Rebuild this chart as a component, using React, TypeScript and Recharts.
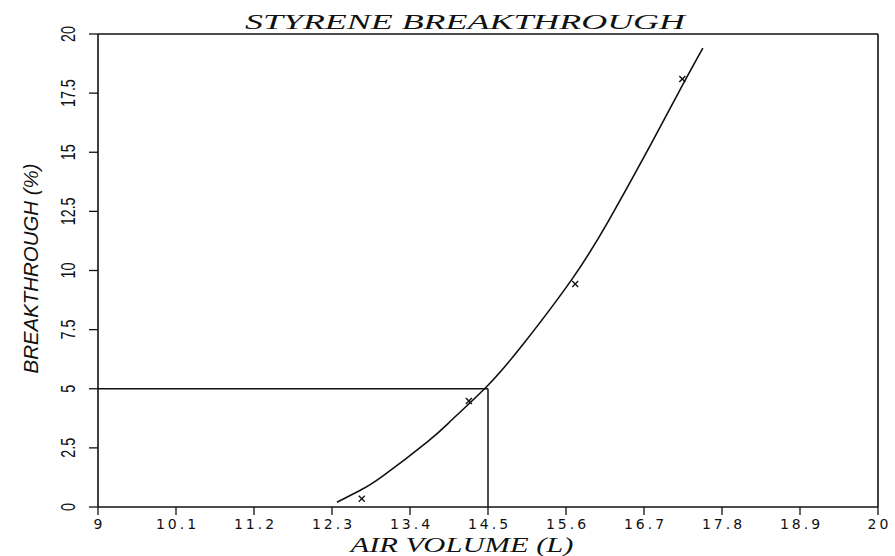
import React from 'react';
import { ComposedChart, Line, Scatter, XAxis, YAxis, ReferenceLine, Label } from 'recharts';

// fitted breakthrough curve
const curveX = [12.37, 12.7, 13.0, 13.64, 14.0, 14.5, 15.0, 15.7, 16.2, 16.7, 17.2, 17.53];
const curveY = [0.2, 0.71, 1.27, 2.74, 3.71, 5.15, 6.9, 9.7, 12.1, 14.8, 17.6, 19.4];
// measured points
const measuredX = [12.72, 14.23, 15.73, 17.24];
const measuredY = [0.35, 4.48, 9.43, 18.1];
// axes
const xTicks = [9, 10.1, 11.2, 12.3, 13.4, 14.5, 15.6, 16.7, 17.8, 18.9, 20];
const xTickLabels = ['9', '10.1', '11.2', '12.3', '13.4', '14.5', '15.6', '16.7', '17.8', '18.9', '20'];
const topTicks = [9, 10.1, 17.8, 18.9, 20];
const yTicks = [0, 2.5, 5, 7.5, 10, 12.5, 15, 17.5, 20];
const yTickLabels = ['0', '2.5', '5', '7.5', '10', '12.5', '15', '17.5', '20'];
const cutoffX = 14.5;
const cutoffY = 5;
const title = 'STYRENE BREAKTHROUGH';
const xTitle = 'AIR VOLUME (L)';
const yTitle = 'BREAKTHROUGH (%)';

const minorX = xTicks.slice(0, -1).flatMap((t) => [1, 2, 3, 4].map((k) => +(t + k * 0.22).toFixed(2)));
const minorY = yTicks.slice(0, -1).flatMap((t) => [1, 2, 3, 4].map((k) => t + k * 0.5));

const curveData = curveX.map((x, i) => ({ x, y: curveY[i] }));
const measuredData = measuredX.map((x, i) => ({ x, y: measuredY[i] }));

const INK = '#111';

const XTick = (props: any) => {
  const { x, y, payload } = props;
  const i = xTicks.indexOf(payload.value);
  return (
    <text x={x + 1.5} y={y + 10} textAnchor="middle" fontSize={14} letterSpacing={3}
      fontFamily="'DejaVu Sans', sans-serif" fill={INK}>
      {i >= 0 ? xTickLabels[i] : payload.value}
    </text>
  );
};

const YTick = (props: any) => {
  const { x, y, payload } = props;
  const i = yTicks.indexOf(payload.value);
  return (
    <text transform={`translate(${x},${y}) rotate(-90) scale(0.72,1)`} textAnchor="middle" fontSize={20}
      fontFamily="'Liberation Sans', Arial, sans-serif" fill={INK}>
      {i >= 0 ? yTickLabels[i] : payload.value}
    </text>
  );
};

const Cross = (props: any) => {
  const { cx, cy } = props;
  const r = 3;
  return (
    <g stroke={INK} strokeWidth={1.4}>
      <line x1={cx - r} y1={cy - r} x2={cx + r} y2={cy + r} />
      <line x1={cx - r} y1={cy + r} x2={cx + r} y2={cy - r} />
    </g>
  );
};

export default function App() {
  return (
    <div style={{ position: 'absolute', left: 0, top: 0, width: 895, height: 556, background: '#fff' }}>
      <ComposedChart width={895} height={556} margin={{ top: 33, right: 16, bottom: 47, left: 96 }}>
        <XAxis xAxisId="minorX" type="number" domain={[9, 20]} allowDataOverflow ticks={minorX} interval={0}
          height={1} tick={false} tickSize={5} axisLine={false} stroke={INK} tickLine={{ stroke: INK, strokeWidth: 1.3 }} />
        <YAxis yAxisId="minorY" type="number" domain={[0, 20]} allowDataOverflow ticks={minorY} interval={0}
          width={1} tick={false} tickSize={5} axisLine={false} stroke={INK} tickLine={{ stroke: INK, strokeWidth: 1.3 }} />
        <XAxis xAxisId="top" orientation="top" type="number" domain={[9, 20]} allowDataOverflow ticks={topTicks}
          interval={0} height={1} tick={false} tickSize={9} stroke={INK} axisLine={{ stroke: INK, strokeWidth: 1.6 }}
          tickLine={{ stroke: INK, strokeWidth: 1.3 }}>
          <Label content={(p: any) => {
            const vb = p.viewBox;
            return (
              <text x={vb.x + vb.width / 2 - 23} y={vb.y + vb.height - 5} textAnchor="middle" fontSize={22}
                fontStyle="italic" fontFamily="'Liberation Serif', 'DejaVu Serif', serif" fill={INK}
                textLength={440} lengthAdjust="spacingAndGlyphs">{title}</text>
            );
          }} />
        </XAxis>
        <YAxis yAxisId="right" orientation="right" type="number" domain={[0, 20]} allowDataOverflow ticks={yTicks}
          interval={0} width={1} tick={false} tickSize={8} stroke={INK} axisLine={{ stroke: INK, strokeWidth: 1.6 }}
          tickLine={{ stroke: INK, strokeWidth: 1.3 }} />
        <XAxis dataKey="x" type="number" domain={[9, 20]} allowDataOverflow ticks={xTicks} interval={0}
          height={1} tick={<XTick />} tickSize={8} tickMargin={4} stroke={INK} axisLine={{ stroke: INK, strokeWidth: 1.6 }}
          tickLine={{ stroke: INK, strokeWidth: 1.3 }}>
          <Label content={(p: any) => {
            const vb = p.viewBox;
            return (
              <text x={vb.x + vb.width / 2 - 26} y={vb.y + 45} textAnchor="middle" fontSize={21} fontStyle="italic"
                fontFamily="'Liberation Serif', 'DejaVu Serif', serif" fill={INK} textLength={223}
                lengthAdjust="spacingAndGlyphs">{xTitle}</text>
            );
          }} />
        </XAxis>
        <YAxis type="number" domain={[0, 20]} allowDataOverflow ticks={yTicks} interval={0} width={1}
          tick={<YTick />} tickSize={9} tickMargin={14} stroke={INK} axisLine={{ stroke: INK, strokeWidth: 1.6 }}
          tickLine={{ stroke: INK, strokeWidth: 1.3 }}>
          <Label content={(p: any) => {
            const vb = p.viewBox;
            const cy = vb.y + vb.height / 2 - 2;
            return (
              <text transform={`translate(38,${cy}) rotate(-90)`} textAnchor="middle" fontSize={20} fontStyle="italic"
                fontFamily="'Liberation Sans', Arial, sans-serif" fill={INK} textLength={210}
                lengthAdjust="spacingAndGlyphs">{yTitle}</text>
            );
          }} />
        </YAxis>
        <ReferenceLine segment={[{ x: 9, y: cutoffY }, { x: cutoffX, y: cutoffY }]} stroke={INK} strokeWidth={1.5} />
        <ReferenceLine segment={[{ x: cutoffX, y: 0 }, { x: cutoffX, y: cutoffY }]} stroke={INK} strokeWidth={1.5} />
        <Line data={curveData} dataKey="y" type="natural" stroke={INK} strokeWidth={1.6} dot={false}
          activeDot={false} isAnimationActive={false} />
        <Scatter data={measuredData} dataKey="y" shape={<Cross />} isAnimationActive={false} />
      </ComposedChart>
    </div>
  );
}
